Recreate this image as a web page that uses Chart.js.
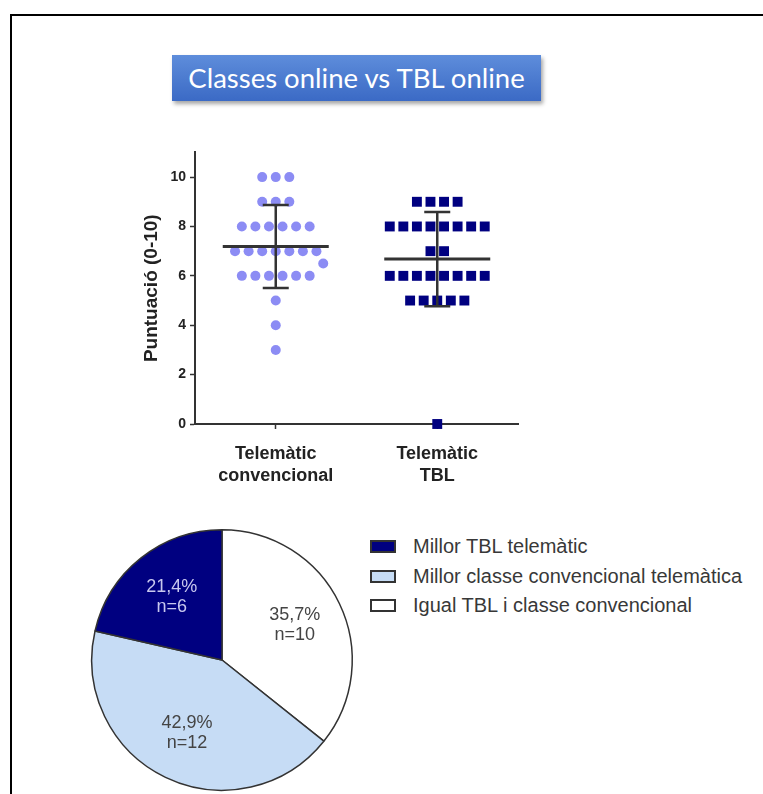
<!DOCTYPE html>
<html>
<head>
<meta charset="utf-8">
<title>Classes online vs TBL online</title>
<script src="https://cdn.jsdelivr.net/npm/chart.js@4.4.1/dist/chart.umd.min.js"></script>
<style>
  body { margin: 0; background: #fff; width: 763px; height: 794px; overflow: hidden; position: relative; }
  #frame { position: absolute; left: 10px; top: 14px; width: 800px; height: 800px; border-top: 2px solid #000; border-left: 2px solid #000; }
  #title {
    position: absolute; left: 172px; top: 55px; width: 369px; height: 46px; line-height: 46px;
    text-align: center; color: #fff; font-family: Lato, "Open Sans", sans-serif; font-size: 27.5px;
    background: linear-gradient(#5e8ddb, #3b6ac5); box-shadow: 2px 3px 4px rgba(0, 0, 0, .35);
  }
  #scatter { position: absolute; left: 136px; top: 140px; }
  #pie { position: absolute; left: 80px; top: 520px; }
  #legend { position: absolute; left: 370px; top: 532px; font: 20px "Liberation Sans", Arial, sans-serif; color: #383838; }
  #legend .item { height: 29.5px; display: flex; align-items: center; white-space: nowrap; }
  #legend .box { width: 22px; height: 9px; border: 2px solid #333; margin-right: 17px; }
</style>
</head>
<body>
<div id="frame"></div>
<div id="title">Classes online vs TBL online</div>
<canvas id="scatter" width="404" height="360"></canvas>
<canvas id="pie" width="284" height="274"></canvas>
<div id="legend"></div>
<script>
// Scores (0-10) of each student, per group
const groupLabels = [["Telemàtic", "convencional"], ["Telemàtic", "TBL"]];
const convScores = [10, 10, 10, 9, 9, 9, 8, 8, 8, 8, 8, 8, 7, 7, 7, 7, 7, 7, 7, 6.5, 6, 6, 6, 6, 6, 6, 5, 4, 3];
const tblScores = [9, 9, 9, 9, 8, 8, 8, 8, 8, 8, 8, 8, 7, 7, 6, 6, 6, 6, 6, 6, 6, 6, 5, 5, 5, 5, 5, 0];
const yTicks = [0, 2, 4, 6, 8, 10];

// Preference survey
const pieLabels = ["Igual TBL i classe convencional", "Millor classe convencional telemàtica", "Millor TBL telemàtic"];
const pieCounts = [10, 12, 6];
const pieColors = ["#ffffff", "#c6dcf5", "#000080"];

Chart.defaults.font.family = '"Liberation Sans", Arial, sans-serif';
Chart.defaults.color = "#222";

// spread equal scores side by side like a column scatter (no randomness)
const STEP = 0.084;
function swarm(scores, centre) {
    const counts = {};
    scores.forEach(v => counts[v] = (counts[v] || 0) + 1);
    const values = Object.keys(counts).map(Number).sort((a, b) => counts[b] - counts[a]);
    const placed = [];
    const clash = (dx, v) => placed.some(p => Math.hypot((p.dx - dx) * 13.5, (p.y - v) * 25) < 13);
    values.forEach(v => {
        const n = counts[v];
        for (let i = 0; i < n; i++) {
            let dx = i - (n - 1) / 2;
            if (n === 1) while (clash(dx, v)) dx += 0.5;
            placed.push({ dx, y: v });
        }
    });
    return placed.map(p => ({ x: centre + p.dx * STEP, y: p.y }));
}

function meanSd(a) {
    const m = a.reduce((s, v) => s + v, 0) / a.length;
    const sd = Math.sqrt(a.reduce((s, v) => s + (v - m) ** 2, 0) / (a.length - 1));
    return { m, sd };
}

// mean line + SD whiskers on top of the dots
const errorBars = {
    id: "errorBars",
    afterDatasetsDraw(chart) {
        const { ctx, scales: { x, y } } = chart;
        [convScores, tblScores].forEach((scores, i) => {
            const { m, sd } = meanSd(scores);
            const cx = x.getPixelForValue(i + 1);
            const ym = y.getPixelForValue(m);
            const yTop = y.getPixelForValue(m + sd);
            const yBot = y.getPixelForValue(m - sd);
            ctx.save();
            ctx.strokeStyle = "#333";
            ctx.lineWidth = 3;
            ctx.beginPath();
            ctx.moveTo(cx - 53, ym); ctx.lineTo(cx + 53, ym);
            ctx.stroke();
            ctx.lineWidth = 2.5;
            ctx.beginPath();
            ctx.moveTo(cx, yTop); ctx.lineTo(cx, yBot);
            ctx.moveTo(cx - 13, yTop); ctx.lineTo(cx + 13, yTop);
            ctx.moveTo(cx - 13, yBot); ctx.lineTo(cx + 13, yBot);
            ctx.stroke();
            ctx.restore();
        });
    }
};

new Chart(document.getElementById("scatter"), {
    type: "scatter",
    data: {
        datasets: [
            { label: "Telemàtic convencional", data: swarm(convScores, 1), pointStyle: "circle", pointRadius: 5, backgroundColor: "#8c8cf4", borderWidth: 0, clip: false },
            { label: "Telemàtic TBL", data: swarm(tblScores, 2), pointStyle: "rect", pointRadius: 7, backgroundColor: "#000080", borderWidth: 0, clip: false }
        ]
    },
    options: {
        responsive: false,
        animation: false,
        events: [],
        layout: { padding: { top: 10, right: 22 } },
        plugins: { legend: { display: false }, tooltip: { enabled: false } },
        scales: {
            x: {
                type: "linear", min: 0.5, max: 2.5,
                afterBuildTicks: s => { s.ticks = [{ value: 1 }, { value: 2 }]; },
                afterFit: s => { s.height = 76; },
                ticks: { callback: (v, i) => groupLabels[i], font: { size: 18, weight: "bold", lineHeight: 1.22 }, color: "#222", padding: 14, maxRotation: 0, autoSkip: false },
                grid: { drawOnChartArea: false, tickLength: 5, tickColor: "#333", tickWidth: 1.5 },
                border: { color: "#333", width: 2 }
            },
            y: {
                min: 0, max: 11,
                afterBuildTicks: s => { s.ticks = yTicks.map(v => ({ value: v })); },
                afterFit: s => { s.width = 59; },
                ticks: { font: { size: 14, weight: "bold" }, color: "#222", padding: 4 },
                grid: { drawOnChartArea: false, tickLength: 5, tickColor: "#333", tickWidth: 1.5 },
                border: { color: "#333", width: 2 },
                title: { display: true, text: "Puntuació (0-10)", font: { size: 19, weight: "bold" }, color: "#222", padding: { top: 4, bottom: 2 } }
            }
        }
    },
    plugins: [errorBars]
});

// percentage + n inside each slice
const sliceLabels = {
    id: "sliceLabels",
    afterDatasetsDraw(chart) {
        const { ctx } = chart;
        const total = pieCounts.reduce((a, b) => a + b, 0);
        chart.getDatasetMeta(0).data.forEach((arc, i) => {
            const { x, y, startAngle, endAngle, outerRadius } = arc.getProps(["x", "y", "startAngle", "endAngle", "outerRadius"], true);
            const mid = (startAngle + endAngle) / 2;
            const r = outerRadius * 0.62;
            const px = x + Math.cos(mid) * r;
            const py = y + Math.sin(mid) * r;
            const pct = (pieCounts[i] / total * 100).toFixed(1).replace(".", ",") + "%";
            ctx.save();
            ctx.fillStyle = i === 2 ? "#c8c8ee" : "#444";
            ctx.font = '18px "Liberation Sans", Arial, sans-serif';
            ctx.textAlign = "center";
            ctx.textBaseline = "middle";
            ctx.fillText(pct, px, py - 10);
            ctx.fillText("n=" + pieCounts[i], px, py + 10);
            ctx.restore();
        });
    }
};

// legend as HTML next to the pie, built from the chart's own legend items
const htmlLegend = {
    id: "htmlLegend",
    afterUpdate(chart) {
        const list = document.getElementById("legend");
        list.innerHTML = "";
        const items = chart.options.plugins.legend.labels.generateLabels(chart);
        items.reverse().forEach(item => {
            const row = document.createElement("div");
            row.className = "item";
            const box = document.createElement("span");
            box.className = "box";
            box.style.background = item.fillStyle;
            const text = document.createElement("span");
            text.textContent = item.text;
            row.append(box, text);
            list.appendChild(row);
        });
    }
};

new Chart(document.getElementById("pie"), {
    type: "pie",
    data: {
        labels: pieLabels,
        datasets: [{ data: pieCounts, backgroundColor: pieColors, borderColor: "#333", borderWidth: 1.5, hoverOffset: 0 }]
    },
    options: {
        responsive: false,
        animation: false,
        events: [],
        layout: { padding: { top: 9, bottom: 3 } },
        plugins: { tooltip: { enabled: false }, legend: { display: false } }
    },
    plugins: [sliceLabels, htmlLegend]
});
</script>
</body>
</html>
